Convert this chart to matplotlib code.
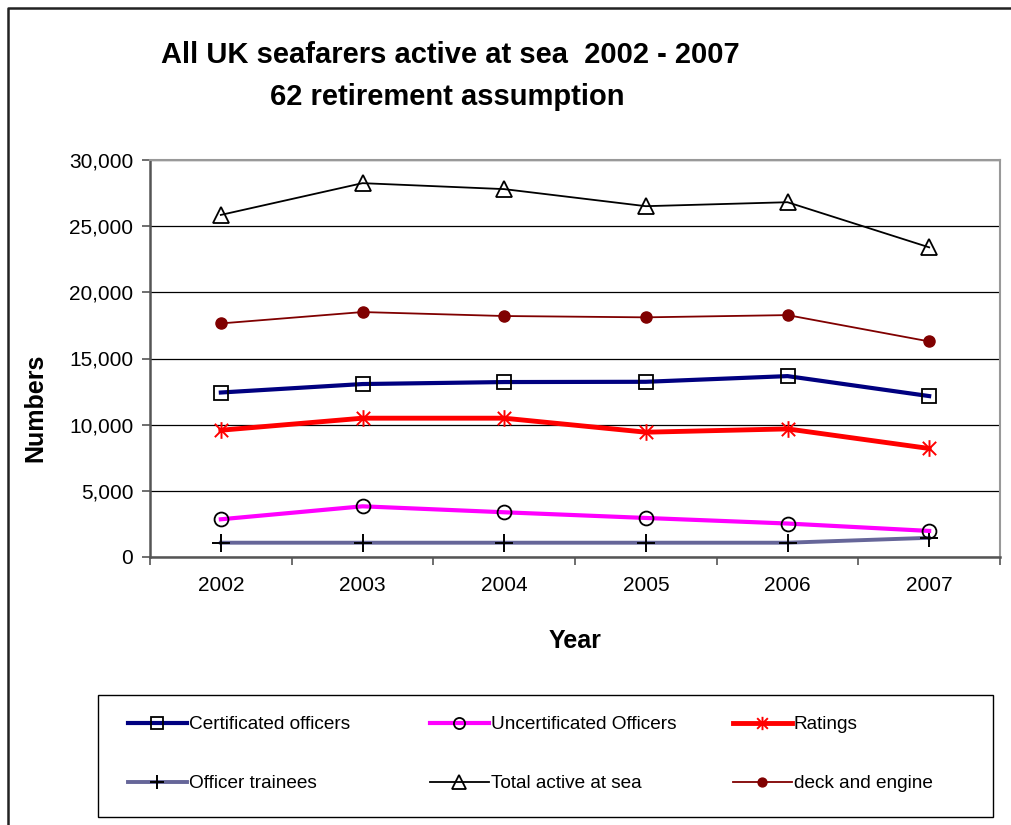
import matplotlib
matplotlib.use("Agg")
import matplotlib.pyplot as plt
from matplotlib.lines import Line2D
from matplotlib.patches import Rectangle
from matplotlib.path import Path
import numpy as np

plt.rcParams['font.family'] = ['Liberation Sans', 'DejaVu Sans']

years = ['2002', '2003', '2004', '2005', '2006', '2007']
certificated = [12430, 13070, 13220, 13240, 13670, 12160]
uncertificated = [2850, 3830, 3380, 2950, 2530, 1970]
ratings = [9580, 10490, 10490, 9430, 9680, 8200]
trainees = [1080, 1080, 1080, 1080, 1080, 1450]
total = [25850, 28250, 27800, 26510, 26810, 23400]
deck_engine = [17650, 18510, 18210, 18110, 18280, 16290]

W, H = 1011, 825

# asterisk marker: an x with a vertical bar through it
star = Path([(-1, -1), (1, 1), (-1, 1), (1, -1), (0, -1.25), (0, 1.25)],
            [Path.MOVETO, Path.LINETO, Path.MOVETO, Path.LINETO, Path.MOVETO, Path.LINETO])

fig = plt.figure(figsize=(W / 100, H / 100), dpi=100)
ax = fig.add_axes([150 / W, 1 - 557 / H, 850 / W, 397 / H])
x = np.arange(len(years))

l_cert, = ax.plot(x, certificated, color='#000080', lw=3, marker='s', ms=10, mfc='none',
                  mec='black', mew=1.3, label='Certificated officers', zorder=5)
l_unc, = ax.plot(x, uncertificated, color='#FF00FF', lw=3, marker='o', ms=10, mfc='none',
                 mec='black', mew=1.3, label='Uncertificated Officers', zorder=5)
l_rat, = ax.plot(x, ratings, color='#FF0000', lw=3.5, marker=star, ms=12, mec='#FF0000',
                 mew=1.4, label='Ratings', zorder=5)
l_tr, = ax.plot(x, trainees, color='#666699', lw=2.8, marker='+', ms=13, mec='black',
                mew=1.4, label='Officer trainees', zorder=4)
l_tot, = ax.plot(x, total, color='black', lw=1.3, marker='^', ms=12, mfc='none',
                 mec='black', mew=1.3, label='Total active at sea', zorder=5)
l_de, = ax.plot(x, deck_engine, color='#800000', lw=1.3, marker='o', ms=8, mfc='#800000',
                mec='#800000', label='deck and engine', zorder=5)

ax.set_xlim(-0.5, 5.5)
ax.set_ylim(0, 30000)
ax.set_yticks(np.arange(0, 30001, 5000))
ax.set_yticklabels([f'{v:,}' for v in range(0, 30001, 5000)], fontsize=15)
ax.set_xticks(x)
ax.set_xticklabels(years, fontsize=15)
ax.set_xticks(np.arange(-0.5, 6, 1), minor=True)
ax.tick_params(axis='x', which='major', length=0, pad=14)
ax.tick_params(axis='x', which='minor', length=6, width=1.2, color='#555555', direction='out')
ax.tick_params(axis='y', length=6, width=1.2, color='#555555', pad=6)
ax.grid(axis='y', color='black', lw=0.9)
ax.set_axisbelow(True)

for side in ['left', 'bottom']:
    ax.spines[side].set_color('#555555')
    ax.spines[side].set_linewidth(1.8)
for side in ['top', 'right']:
    ax.spines[side].set_color('#999999')
    ax.spines[side].set_linewidth(1.5)

ax.set_xlabel('Year', fontsize=18, fontweight='bold', labelpad=24)
ax.set_ylabel('Numbers', fontsize=18, fontweight='bold')
ax.yaxis.set_label_coords(-0.121, 0.375)

fig.text(450 / W, 1 - 55 / H, 'All UK seafarers active at sea  2002 - 2007',
         fontsize=21, fontweight='bold', ha='center', va='center')
fig.text(447 / W, 1 - 97 / H, '62 retirement assumption',
         fontsize=21, fontweight='bold', ha='center', va='center')

# legend: framed box holding three two-row columns
fig.add_artist(Rectangle((98 / W, 1 - 817 / H), 895 / W, 122 / H, transform=fig.transFigure,
                         fill=False, edgecolor='black', lw=1.0))
columns = [([l_cert, l_tr], 128), ([l_unc, l_tot], 430), ([l_rat, l_de], 733)]
for handles, left in columns:
    fig.legend(handles=handles, labels=[h.get_label() for h in handles],
               loc='upper left', bbox_to_anchor=(left / W, 1 - 716 / H),
               frameon=False, fontsize=13.7, markerscale=0.8, handlelength=3.1,
               handletextpad=0.1, labelspacing=2.2, borderpad=0, borderaxespad=0)

# chart outline
fig.add_artist(Line2D([8 / W, 8 / W, 1.0], [0.0, 1 - 8 / H, 1 - 8 / H],
                      transform=fig.transFigure, color='#222222', lw=1.8))

fig.savefig('out.png', dpi=100)
